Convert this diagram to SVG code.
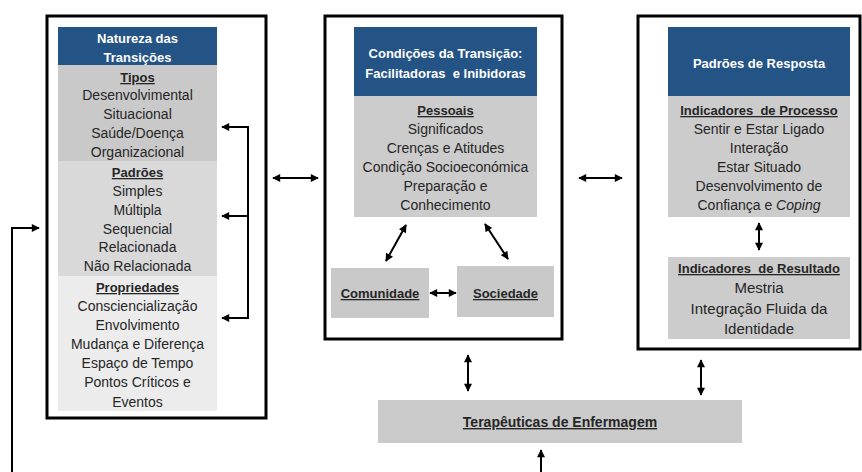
<svg xmlns="http://www.w3.org/2000/svg" width="862" height="472" viewBox="0 0 862 472">
<style>
text{font-family:"Liberation Sans",Arial,sans-serif;text-anchor:middle;fill:#262626}
.t{font-size:14px}
.r{font-size:15px}
.h{font-size:13px;font-weight:bold;text-decoration:underline}
.w{font-size:13px;font-weight:bold;fill:#ffffff}
.frame{fill:#ffffff;stroke:#000000;stroke-width:3}
.hdr{fill:#245485}
.c{fill:none;stroke:#000000;stroke-width:2}
</style>
<defs>
<marker id="ah" viewBox="0 0 10 10" refX="9" refY="5" markerWidth="9" markerHeight="8" markerUnits="userSpaceOnUse" orient="auto-start-reverse">
<path d="M0,0 L10,5 L0,10 Z" fill="#000000"/>
</marker>
</defs>
<rect width="862" height="472" fill="#ffffff"/>

<g id="natureza">
<rect class="frame" x="47" y="16" width="219" height="402"/>
<rect class="hdr" x="58" y="27" width="159" height="38"/>
<rect x="58" y="65" width="159" height="96" fill="#c9c9c9"/>
<rect x="58" y="161" width="159" height="115" fill="#d9d9d9"/>
<rect x="58" y="276" width="159" height="135" fill="#ececec"/>
<text class="w" x="137.5" y="42.5">Natureza das</text>
<text class="w" x="137.5" y="61.5">Transições</text>
<text class="h" x="137.5" y="82">Tipos</text>
<text class="t" x="137.5" y="100">Desenvolvimental</text>
<text class="t" x="137.5" y="119">Situacional</text>
<text class="t" x="137.5" y="138">Saúde/Doença</text>
<text class="t" x="137.5" y="157">Organizacional</text>
<text class="h" x="137.5" y="177">Padrões</text>
<text class="t" x="137.5" y="196">Simples</text>
<text class="t" x="137.5" y="215">Múltipla</text>
<text class="t" x="137.5" y="234">Sequencial</text>
<text class="t" x="137.5" y="252">Relacionada</text>
<text class="t" x="137.5" y="271">Não Relacionada</text>
<text class="h" x="137.5" y="292">Propriedades</text>
<text class="t" x="137.5" y="311">Consciencialização</text>
<text class="t" x="137.5" y="330">Envolvimento</text>
<text class="t" x="137.5" y="349">Mudança e Diferença</text>
<text class="t" x="137.5" y="368">Espaço de Tempo</text>
<text class="t" x="137.5" y="387">Pontos Críticos e</text>
<text class="t" x="137.5" y="407">Eventos</text>
</g>

<g id="condicoes">
<rect class="frame" x="325" y="16" width="237" height="323"/>
<rect class="hdr" x="354" y="27" width="183" height="69"/>
<rect x="354" y="96" width="183" height="121" fill="#cccccc"/>
<text class="w" x="445.5" y="57.5">Condições da Transição:</text>
<text class="w" x="445.5" y="77.5" xml:space="preserve">Facilitadoras  e Inibidoras</text>
<text class="h" x="445.5" y="115">Pessoais</text>
<text class="t" x="445.5" y="134">Significados</text>
<text class="t" x="445.5" y="153">Crenças e Atitudes</text>
<text class="t" x="445.5" y="172">Condição Socioeconómica</text>
<text class="t" x="445.5" y="191">Preparação e</text>
<text class="t" x="445.5" y="210">Conhecimento</text>
</g>

<g id="comunidade">
<rect x="331" y="268" width="98" height="50" fill="#c9c9c9"/>
<text class="h" x="380" y="298">Comunidade</text>
</g>

<g id="sociedade">
<rect x="457" y="266" width="97" height="51" fill="#c9c9c9"/>
<text class="h" x="505.5" y="298">Sociedade</text>
</g>

<g id="padroes-resposta">
<rect class="frame" x="638" y="16" width="222" height="333"/>
<rect class="hdr" x="668" y="27" width="182" height="69"/>
<rect x="668" y="96" width="182" height="121" fill="#cccccc"/>
<text class="w" x="759" y="67.5">Padrões de Resposta</text>
<text class="h" x="759" y="115" xml:space="preserve">Indicadores  de Processo</text>
<text class="t" x="759" y="134">Sentir e Estar Ligado</text>
<text class="t" x="759" y="153">Interação</text>
<text class="t" x="759" y="172">Estar Situado</text>
<text class="t" x="759" y="191">Desenvolvimento de</text>
<text class="t" x="759" y="210">Confiança e <tspan font-style="italic">Coping</tspan></text>
</g>

<g id="resultado">
<rect x="668" y="257" width="182" height="82" fill="#cccccc"/>
<text class="h" x="759" y="273" xml:space="preserve">Indicadores  de Resultado</text>
<text class="r" x="759" y="292.5">Mestria</text>
<text class="r" x="759" y="314">Integração Fluida da</text>
<text class="r" x="759" y="334">Identidade</text>
</g>

<g id="terapeuticas">
<rect x="378" y="400" width="364" height="43" fill="#cbcbcb"/>
<text x="560" y="427" font-size="14" font-weight="bold" text-decoration="underline">Terapêuticas de Enfermagem</text>
</g>

<g id="connectors">
<path class="c" d="M222,127 H248 V318 H222" marker-start="url(#ah)" marker-end="url(#ah)"/>
<path class="c" d="M248,216 H222" marker-end="url(#ah)"/>
<path class="c" d="M12,472 V228 H39" marker-end="url(#ah)"/>
<path class="c" d="M273,178 H318" marker-start="url(#ah)" marker-end="url(#ah)"/>
<path class="c" d="M579,178 H622" marker-start="url(#ah)" marker-end="url(#ah)"/>
<path class="c" d="M406,225 L386,261" marker-start="url(#ah)" marker-end="url(#ah)"/>
<path class="c" d="M485,224 L508,259" marker-start="url(#ah)" marker-end="url(#ah)"/>
<path class="c" d="M430,293 H456" marker-start="url(#ah)" marker-end="url(#ah)"/>
<path class="c" d="M759,223 V250" marker-start="url(#ah)" marker-end="url(#ah)"/>
<path class="c" d="M468,355 V391" marker-start="url(#ah)" marker-end="url(#ah)"/>
<path class="c" d="M701,360 V395" marker-start="url(#ah)" marker-end="url(#ah)"/>
<path class="c" d="M541,472 V450" marker-end="url(#ah)"/>
</g>
</svg>
